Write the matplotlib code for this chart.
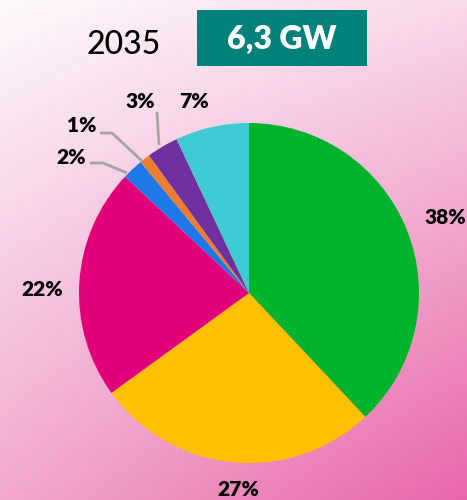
import matplotlib.pyplot as plt
import numpy as np
from matplotlib.patches import Rectangle

shares = [38, 27, 22, 2, 1, 3, 7]
labels = ['38%', '27%', '22%', '2%', '1%', '3%', '7%']
colors = ['#00B32D', '#FFC000', '#E2007A', '#1F78E8', '#ED7D31', '#7030A0', '#3FCBD3']
year = '2035'
capacity = '6,3 GW'

plt.rcParams['font.family'] = ['Lato', 'DejaVu Sans']

W, H = 467, 500
fig = plt.figure(figsize=(W / 100, H / 100), dpi=100)

# pink gradient background, near white top-left to deeper pink bottom-right
bg = fig.add_axes([0, 0, 1, 1])
xx, yy = np.meshgrid(np.linspace(0, 1, 200), np.linspace(0, 1, 200))
t = np.clip(0.22 * xx + 0.55 * yy + 0.23 * xx * yy, 0, 1)
top = np.array([253, 249, 252]) / 255
bottom = np.array([232, 102, 168]) / 255
img = top[None, None, :] * (1 - t[..., None]) + bottom[None, None, :] * t[..., None]
bg.imshow(img, extent=[0, W, H, 0], aspect='auto')
bg.axis('off')

ax = fig.add_axes([0, 0, 1, 1])
ax.patch.set_alpha(0)
wedges, _ = ax.pie(shares, colors=colors, startangle=90, counterclock=False,
                   center=(249, H - 293), radius=170, frame=True,
                   wedgeprops=dict(linewidth=0))
ax.set_xlim(0, W)
ax.set_ylim(0, H)
ax.set_aspect('auto')
ax.axis('off')

# percentage labels
pos = [(445, 217), (238, 489), (42, 290), (71, 158), (82, 126), (140, 102), (194, 102)]
for lab, (x, y) in zip(labels, pos):
    ax.text(x, H - y, lab, ha='center', va='center', fontsize=15,
            fontweight='heavy', color='black')

# leader lines for the thin slices
leaders = [
    [(90, 163), (103, 163), (127, 173)],
    [(100, 133), (112, 133), (142, 161)],
    [(157, 112), (159, 145)],
]
for pts in leaders:
    xs, ys = zip(*pts)
    ax.plot(xs, [H - y for y in ys], color='#A6A6A6', lw=2, solid_capstyle='butt')

# header: year and total capacity box
ax.text(124, H - 45, year, ha='center', va='center', fontsize=23,
        fontweight='medium', color='black')
ax.add_patch(Rectangle((197, H - 66), 170, 56, color='#00827A', lw=0))
ax.text(282, H - 39, capacity, ha='center', va='center', fontsize=23,
        fontweight='heavy', color='white')

fig.savefig('out.png', dpi=100)
